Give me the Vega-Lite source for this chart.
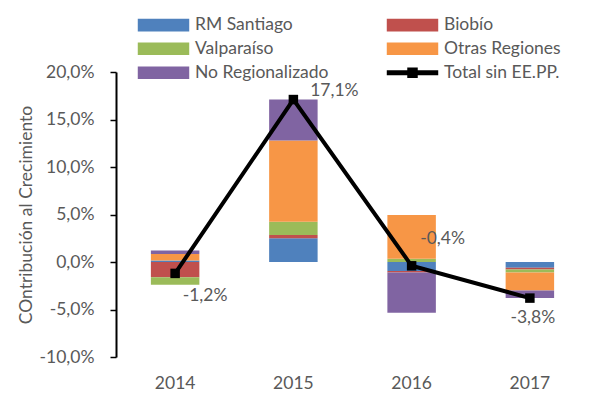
{
  "$schema": "https://vega.github.io/schema/vega-lite/v6.json",
  "width": 473,
  "height": 285,
  "autosize": "none",
  "padding": {"left": 116, "top": 72, "right": 2, "bottom": 43},
  "config": {
    "locale": {"number": {"decimal": ",", "thousands": ".", "grouping": [3], "currency": ["", "€"], "minus": "-"}},
    "view": {"stroke": null},
    "font": "Lato"
  },
  "datasets": {
    "bars": [
      {"year": "2014", "series": "RM Santiago", "value": 0.0015},
      {"year": "2014", "series": "Biobío", "value": -0.016},
      {"year": "2014", "series": "Valparaíso", "value": -0.008},
      {"year": "2014", "series": "Otras Regiones", "value": 0.007},
      {"year": "2014", "series": "No Regionalizado", "value": 0.0035},
      {"year": "2015", "series": "RM Santiago", "value": 0.025},
      {"year": "2015", "series": "Biobío", "value": 0.0035},
      {"year": "2015", "series": "Valparaíso", "value": 0.014},
      {"year": "2015", "series": "Otras Regiones", "value": 0.0855},
      {"year": "2015", "series": "No Regionalizado", "value": 0.043},
      {"year": "2016", "series": "RM Santiago", "value": -0.0095},
      {"year": "2016", "series": "Biobío", "value": -0.0015},
      {"year": "2016", "series": "Valparaíso", "value": 0.0035},
      {"year": "2016", "series": "Otras Regiones", "value": 0.046},
      {"year": "2016", "series": "No Regionalizado", "value": -0.0425},
      {"year": "2017", "series": "RM Santiago", "value": -0.006},
      {"year": "2017", "series": "Biobío", "value": -0.002},
      {"year": "2017", "series": "Valparaíso", "value": -0.003},
      {"year": "2017", "series": "Otras Regiones", "value": -0.019},
      {"year": "2017", "series": "No Regionalizado", "value": -0.008}
    ],
    "total": [
      {"year": "2014", "series": "Total sin EE.PP.", "value": -0.012},
      {"year": "2015", "series": "Total sin EE.PP.", "value": 0.171},
      {"year": "2016", "series": "Total sin EE.PP.", "value": -0.004},
      {"year": "2017", "series": "Total sin EE.PP.", "value": -0.038}
    ]
  },
  "encoding": {
    "x": {
      "field": "year", "type": "nominal",
      "scale": {"paddingInner": 0.59, "paddingOuter": 0.295},
      "axis": {"title": null, "labelAngle": 0, "domain": false, "ticks": false, "labelPadding": 17, "labelFontSize": 17.5, "labelColor": "#595959"}
    },
    "y": {
      "field": "value", "type": "quantitative",
      "scale": {"domain": [-0.1, 0.2], "nice": false},
      "axis": {
        "title": "COntribución al Crecimiento", "format": ".1%",
        "values": [-0.1, -0.05, 0, 0.05, 0.1, 0.15, 0.2],
        "grid": false, "domainColor": "black", "domainWidth": 2,
        "tickColor": "black", "tickWidth": 1.5, "tickSize": 6, "labelPadding": 16,
        "labelFontSize": 17.5, "labelColor": "#595959",
        "titleFontSize": 17.5, "titleFontWeight": "normal", "titleColor": "#595959", "titlePadding": 4
      }
    }
  },
  "layer": [
    {
      "data": {"name": "bars"},
      "transform": [{"calculate": "indexof(['RM Santiago', 'Biobío', 'Valparaíso', 'Otras Regiones', 'No Regionalizado'], datum.series)", "as": "k"}],
      "mark": {"type": "bar"},
      "encoding": {
        "y": {"field": "value", "type": "quantitative", "stack": "zero"},
        "order": {"field": "k", "type": "quantitative", "sort": "ascending"},
        "color": {
          "field": "series", "type": "nominal",
          "scale": {
            "domain": ["RM Santiago", "Biobío", "Valparaíso", "Otras Regiones", "No Regionalizado", "Total sin EE.PP."],
            "range": ["#4F81BD", "#C0504D", "#9BBB59", "#F79646", "#8064A2", "#000000"]
          },
          "legend": {
            "title": null, "orient": "none", "legendX": 20, "legendY": -56,
            "direction": "horizontal",
            "columns": 2, "columnPadding": 55, "rowPadding": 5,
            "labelFontSize": 17.5, "labelColor": "#595959",
            "symbolSize": 156, "symbolOffset": 18.75, "labelOffset": 22.75,
            "encode": {
              "symbols": {
                "update": {
                  "shape": {"signal": "datum.value === 'Total sin EE.PP.' ? 'M-4,-0.28H4V0.28H-4Z M-0.72,-0.72H0.72V0.72H-0.72Z' : 'M-4,-0.9H4V0.9H-4Z'"},
                  "fill": {"scale": "color", "field": "value"},
                  "stroke": {"value": "transparent"},
                  "opacity": {"value": 1},
                  "fillOpacity": {"value": 1}
                }
              }
            }
          }
        }
      }
    },
    {
      "data": {"values": [{}]},
      "mark": {"type": "rule", "color": "black", "strokeWidth": 1.5},
      "encoding": {"y": {"datum": 0}, "x": null}
    },
    {
      "data": {"name": "total"},
      "mark": {"type": "line", "strokeWidth": 4},
      "encoding": {"color": {"field": "series", "type": "nominal", "legend": null}}
    },
    {
      "data": {"name": "total"},
      "mark": {"type": "square", "size": 90, "opacity": 1, "filled": true},
      "encoding": {"color": {"field": "series", "type": "nominal", "legend": null}}
    },
    {
      "data": {"name": "total"},
      "transform": [{"filter": "datum.year === '2014'"}],
      "mark": {"type": "text", "fontSize": 17.5, "color": "#595959", "dx": 30, "dy": 23},
      "encoding": {"text": {"field": "value", "type": "quantitative", "format": ".1%"}}
    },
    {
      "data": {"name": "total"},
      "transform": [{"filter": "datum.year === '2015'"}],
      "mark": {"type": "text", "fontSize": 17.5, "color": "#595959", "dx": 41, "dy": -9},
      "encoding": {"text": {"field": "value", "type": "quantitative", "format": ".1%"}}
    },
    {
      "data": {"name": "total"},
      "transform": [{"filter": "datum.year === '2016'"}],
      "mark": {"type": "text", "fontSize": 17.5, "color": "#595959", "dx": 31, "dy": -27},
      "encoding": {"text": {"field": "value", "type": "quantitative", "format": ".1%"}}
    },
    {
      "data": {"name": "total"},
      "transform": [{"filter": "datum.year === '2017'"}],
      "mark": {"type": "text", "fontSize": 17.5, "color": "#595959", "dx": 3, "dy": 20},
      "encoding": {"text": {"field": "value", "type": "quantitative", "format": ".1%"}}
    }
  ]
}
